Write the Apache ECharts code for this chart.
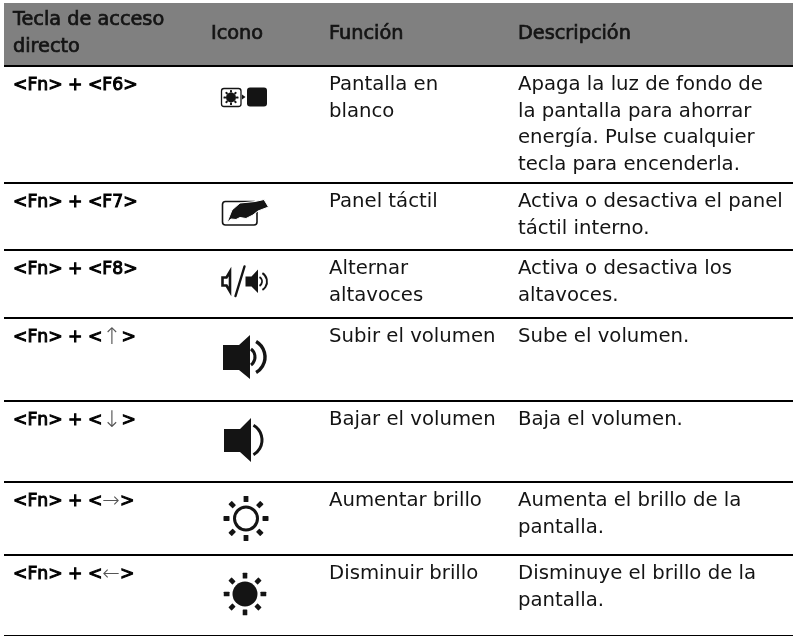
<!DOCTYPE html>
<html><head><meta charset="utf-8">
<style>html,body{margin:0;padding:0;background:#fff}#c{width:793px;height:636px}</style>
<script src="https://cdn.jsdelivr.net/npm/echarts@6/dist/echarts.min.js"></script>
</head><body><div id="c"></div>
<script>
const headers = ["Tecla de acceso\ndirecto", "Icono", "Función", "Descripción"];
const hotkeys = ["F6", "F7", "F8", "↑", "↓", "→", "←"];
const icons = ["blank", "touchpad", "speakers", "volup", "voldown", "brightup", "brightdown"];
const functions = ["Pantalla en\nblanco", "Panel táctil", "Alternar\naltavoces", "Subir el volumen", "Bajar el volumen", "Aumentar brillo", "Disminuir brillo"];
const descriptions = [
  "Apaga la luz de fondo de\nla pantalla para ahorrar\nenergía. Pulse cualquier\ntecla para encenderla.",
  "Activa o desactiva el panel\ntáctil interno.",
  "Activa o desactiva los\naltavoces.",
  "Sube el volumen.",
  "Baja el volumen.",
  "Aumenta el brillo de la\npantalla.",
  "Disminuye el brillo de la\npantalla."
];

// layout
const W = 793, H = 636;
const rowTops = [67, 184, 251, 319, 402, 483, 556];
const tableBottom = 636;
const colX = [13, 211, 329, 518];
const LH = 26.5, FS = 19.7, FS_HEAD = 19.3, FS_KEY = 17.2, FONT = '"DejaVu Sans", sans-serif', INK = '#141414';

function sunRays(cx, cy, r, s) {
  const out = [];
  for (let k = 0; k < 8; k++) {
    out.push({ type:'rect', rotation:-k*Math.PI/4, x:cx, y:cy, originX:0, originY:0,
      shape:{x:r, y:-s/2, width:s*1.25, height:s, r:.6}, style:{fill:INK} });
  }
  return out;
}
function arc(cx, cy, r, w, a) {
  return { type:'arc', shape:{cx, cy, r, startAngle:-a, endAngle:a, clockwise:true},
    style:{stroke:INK, fill:null, lineWidth:w} };
}
function speaker(bx, by, bw, bh, tipX, tipT, tipB, fill) {
  return { type:'path', shape:{pathData:`M${bx} ${by}H${bx+bw}L${tipX} ${tipT}V${tipB}L${bx+bw} ${by+bh}H${bx}Z`,
      layout:'cover', x:bx, y:tipT, width:tipX-bx, height:tipB-tipT},
    style:{fill:fill, stroke:INK, lineWidth:fill===INK?0:2.6} };
}
const iconDraw = {
  blank: () => [
    { type:'rect', shape:{x:221.5,y:88.5,width:19.5,height:18,r:2.5}, style:{fill:'#fff',stroke:INK,lineWidth:1.3} },
    ...sunRays(231,97.5,5,2),
    { type:'circle', shape:{cx:231,cy:97.5,r:5}, style:{fill:INK} },
    { type:'polygon', shape:{points:[[242,94.5],[245.5,97],[242,99.5]]}, style:{fill:INK} },
    { type:'rect', shape:{x:247,y:87.5,width:20,height:19,r:3}, style:{fill:INK} }
  ],
  touchpad: () => [
    { type:'rect', shape:{x:222.5,y:201.5,width:34.5,height:23.5,r:3}, style:{fill:'#fff',stroke:INK,lineWidth:1.6} },
    { type:'polygon', shape:{points:[[227,222.5],[232,210],[240,203],[255,201.5],[264,199.5],[268.5,207],[258,211],[253,215],[246,218.5],[240,217.5],[236,219.5],[231,219]]},
      style:{fill:INK,stroke:'#fff',lineWidth:1} }
  ],
  speakers: () => [
    speaker(222.5,277.5,4,8,230,271.5,291.5,'#fff'),
    { type:'line', shape:{x1:244.5,y1:266.5,x2:235.5,y2:296}, style:{stroke:INK,lineWidth:2.4,lineCap:'round'} },
    speaker(245.5,276.5,6,10,258,269.5,293,INK),
    arc(257,281.5,5,1.9,1.05), arc(257,281.5,10,1.9,1.0)
  ],
  volup: () => [
    speaker(223,345,16,25,250,335,379,INK),
    arc(245,357,10,3,0.93), arc(247,357,18,3.4,1.04)
  ],
  voldown: () => [
    speaker(224,429,16,23,251,418,462,INK),
    arc(245,440,17,3,1.05)
  ],
  brightup: () => [
    { type:'circle', shape:{cx:246,cy:518.5,r:11.5}, style:{fill:'#fff',stroke:INK,lineWidth:3} },
    ...sunRays(246,518.5,16.5,4.8)
  ],
  brightdown: () => [
    { type:'circle', shape:{cx:245,cy:594,r:12.5}, style:{fill:INK} },
    ...sunRays(245,594,15.5,4.6)
  ]
};

function textLines(str, x, y, bold) {
  return str.split('\n').map((t, i) => ({ type:'text', x, y:y+i*LH,
    style:{text:t, x:0, y:0, fill:INK, font:`400 ${bold?FS_HEAD:FS}px ${FONT}`, verticalAlign:'middle', align:'left',
      stroke: bold ? INK : null, lineWidth: bold ? .7 : 0} }));
}
function keyText(k, x, y) {
  const b = { fontFamily:'DejaVu Sans', fontSize:FS_KEY, fontWeight:400, fill:'#000', stroke:'#000', lineWidth:1 };
  const arrowSize = (k === '↑' || k === '↓') ? 23 : 21;
  const label = `{b|<Fn> + <}{${k.length===1?'a':'b'}|${k}}{b|>}`;
  return { type:'text', x, y, style:{ text:label, x:0, y:0, verticalAlign:'middle', align:'left', rich:{
    b, a:{ fontFamily:'DejaVu Sans', fontSize:arrowSize, fontWeight:200, fill:'#555' } } } };
}

function renderRow(params, api) {
  const i = api.value(0);
  const kids = [];
  const L = api.coord([4, 0])[0], R = api.coord([W, 0])[0];
  if (i === -1) {
    const t = api.coord([0, 3])[1], b = api.coord([0, 65])[1];
    kids.push({ type:'rect', shape:{x:L,y:t,width:R-L,height:b-t}, style:{fill:'#808080'} });
    kids.push(...textLines(headers[0], colX[0], 20, true));
    const mid = api.coord([0, 33.5])[1];
    kids.push(...textLines(headers[1], colX[1], mid, true));
    kids.push(...textLines(headers[2], colX[2], mid, true));
    kids.push(...textLines(headers[3], colX[3], mid, true));
    return { type:'group', children:kids };
  }
  const top = api.coord([0, rowTops[i]])[1];
  kids.push({ type:'rect', shape:{x:L,y:top-2,width:R-L,height:2}, style:{fill:'#000'} });
  const y = top + 18;
  kids.push(keyText(hotkeys[i], colX[0], y + 1));
  kids.push(...iconDraw[icons[i]]());
  kids.push(...textLines(functions[i], colX[2], y, false));
  kids.push(...textLines(descriptions[i], colX[3], y, false));
  if (i === rowTops.length - 1) {
    kids.push({ type:'rect', shape:{x:L,y:tableBottom-1,width:R-L,height:1}, style:{fill:'#000'} });
  }
  return { type:'group', children:kids };
}

const chart = echarts.init(document.getElementById('c'), null, {renderer:'canvas'});
const rowIds = [-1].concat(hotkeys.map((_, i) => i));
chart.setOption({
  animation:false,
  grid:{left:0,right:0,top:0,bottom:0},
  xAxis:{type:'value',min:0,max:W,show:false},
  yAxis:{type:'value',min:0,max:H,inverse:true,show:false},
  tooltip:{show:false},
  series:[{ type:'custom', coordinateSystem:'cartesian2d', renderItem:renderRow,
    encode:{x:0,y:0}, clip:false, silent:true,
    data:rowIds.map(v => [v]) }]
});
</script></body></html>
